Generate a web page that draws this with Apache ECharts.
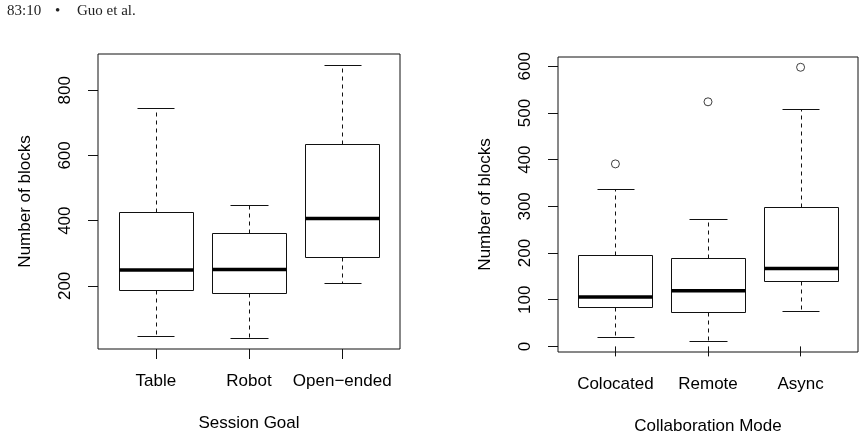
<!DOCTYPE html>
<html>
<head>
<meta charset="utf-8">
<script src="https://cdn.jsdelivr.net/npm/echarts@6/dist/echarts.min.js"></script>
<style>
  html, body { margin: 0; padding: 0; background: #fff; }
  #main { width: 865px; height: 440px; }
</style>
</head>
<body>
<div id="main"></div>
<script>
// Session Goal panel
const goalCats = ['Table', 'Robot', 'Open−ended'];
const goalMin = [47, 39, 209];
const goalQ1 = [188, 178, 289];
const goalMed = [249, 250, 407];
const goalQ3 = [426, 361, 636];
const goalMax = [746, 447, 877];
const goalTicks = [200, 400, 600, 800];

// Collaboration Mode panel
const modeCats = ['Colocated', 'Remote', 'Async'];
const modeMin = [20, 11, 75];
const modeQ1 = [85, 74, 141];
const modeMed = [106, 119, 167];
const modeQ3 = [195, 189, 299];
const modeMax = [338, 274, 508];
const modeOutX = [1, 2, 3];
const modeOutY = [391, 524, 598];
const modeTicks = [0, 100, 200, 300, 400, 500, 600];

const FONT = '"Liberation Sans", Arial, Helvetica, sans-serif';
const INK = '#111';

function boxRows(mins, q1s, meds, q3s, maxs) {
  return mins.map((m, i) => [i + 1, m, q1s[i], meds[i], q3s[i], maxs[i]]);
}

// R style box: dashed whiskers, solid caps, thick median
function renderBox(params, api) {
  const x = api.value(0);
  const pMin = api.coord([x, api.value(1)]);
  const pQ1 = api.coord([x, api.value(2)]);
  const pMed = api.coord([x, api.value(3)]);
  const pQ3 = api.coord([x, api.value(4)]);
  const pMax = api.coord([x, api.value(5)]);
  const left = Math.round(api.coord([x - 0.4, 0])[0]) + 0.5;
  const right = Math.round(api.coord([x + 0.4, 0])[0]) + 0.5;
  const capL = Math.round(api.coord([x - 0.2, 0])[0]) + 0.5;
  const capR = Math.round(api.coord([x + 0.2, 0])[0]) + 0.5;
  const cx = Math.round(pMed[0]) + 0.5;
  const r = v => Math.round(v) + 0.5;
  const thin = { stroke: INK, lineWidth: 1 };
  const dash = { stroke: INK, lineWidth: 1, lineDash: [4, 4] };
  return {
    type: 'group',
    children: [
      { type: 'line', shape: { x1: cx, y1: r(pQ3[1]), x2: cx, y2: r(pMax[1]) }, style: dash },
      { type: 'line', shape: { x1: cx, y1: r(pQ1[1]), x2: cx, y2: r(pMin[1]) }, style: dash },
      { type: 'line', shape: { x1: capL, y1: r(pMax[1]), x2: capR, y2: r(pMax[1]) }, style: thin },
      { type: 'line', shape: { x1: capL, y1: r(pMin[1]), x2: capR, y2: r(pMin[1]) }, style: thin },
      { type: 'rect', shape: { x: left, y: r(pQ3[1]), width: right - left, height: r(pQ1[1]) - r(pQ3[1]) },
        style: { fill: '#fff', stroke: INK, lineWidth: 1 } },
      { type: 'line', shape: { x1: left, y1: pMed[1], x2: right, y2: pMed[1] }, style: { stroke: '#000', lineWidth: 3.5 } }
    ]
  };
}

function xAxisFor(gridIndex, cats, title) {
  return {
    type: 'value', gridIndex: gridIndex, min: 0.38, max: 3.62,
    name: title, nameLocation: 'middle', nameGap: 66,
    nameTextStyle: { fontFamily: FONT, fontSize: 17, color: '#000' },
    axisLine: { show: false },
    axisTick: { show: true, length: 10, customValues: [1, 2, 3], lineStyle: { color: INK } },
    axisLabel: { customValues: [1, 2, 3], margin: 24, fontFamily: FONT, fontSize: 17, color: '#000',
      formatter: v => cats[Math.round(v) - 1] },
    splitLine: { show: false }
  };
}

function yAxisFor(gridIndex, lo, hi, ticks) {
  return {
    type: 'value', gridIndex: gridIndex, min: lo, max: hi,
    name: 'Number of blocks', nameLocation: 'middle', nameGap: 64,
    nameTextStyle: { fontFamily: FONT, fontSize: 17, color: '#000' },
    axisLine: { show: false },
    axisTick: { show: true, length: 10, customValues: ticks, lineStyle: { color: INK } },
    axisLabel: { customValues: ticks, rotate: 90, margin: 24, fontFamily: FONT, fontSize: 17, color: '#000' },
    splitLine: { show: false }
  };
}

const chart = echarts.init(document.getElementById('main'));
chart.setOption({
  animation: false,
  backgroundColor: '#fff',
  grid: [
    { left: 98, top: 54, width: 302, height: 295, show: true, borderColor: INK, borderWidth: 1, backgroundColor: 'transparent' },
    { left: 558, top: 57, width: 300, height: 295, show: true, borderColor: INK, borderWidth: 1, backgroundColor: 'transparent' }
  ],
  xAxis: [
    xAxisFor(0, goalCats, 'Session Goal'),
    xAxisFor(1, modeCats, 'Collaboration Mode')
  ],
  yAxis: [
    yAxisFor(0, 6.5, 911, goalTicks),
    yAxisFor(1, -12, 620, modeTicks)
  ],
  graphic: [
    { type: 'text', left: 7, top: 4, style: { text: '83:10', font: '15px "Liberation Serif", serif', fill: '#222' } },
    { type: 'text', left: 55, top: 4, style: { text: '•', font: '15px "Liberation Serif", serif', fill: '#222' } },
    { type: 'text', left: 77, top: 4, style: { text: 'Guo et al.', font: '15px "Liberation Serif", serif', fill: '#222' } }
  ],
  series: [
    {
      type: 'custom', xAxisIndex: 0, yAxisIndex: 0,
      renderItem: renderBox,
      encode: { x: 0, y: [1, 2, 3, 4, 5] },
      data: boxRows(goalMin, goalQ1, goalMed, goalQ3, goalMax)
    },
    {
      type: 'custom', xAxisIndex: 1, yAxisIndex: 1,
      renderItem: renderBox,
      encode: { x: 0, y: [1, 2, 3, 4, 5] },
      data: boxRows(modeMin, modeQ1, modeMed, modeQ3, modeMax)
    },
    {
      type: 'scatter', xAxisIndex: 1, yAxisIndex: 1,
      symbol: 'circle', symbolSize: 8,
      itemStyle: { color: '#fff', borderColor: INK, borderWidth: 1 },
      data: modeOutX.map((x, i) => [x, modeOutY[i]])
    }
  ]
});
</script>
</body>
</html>
